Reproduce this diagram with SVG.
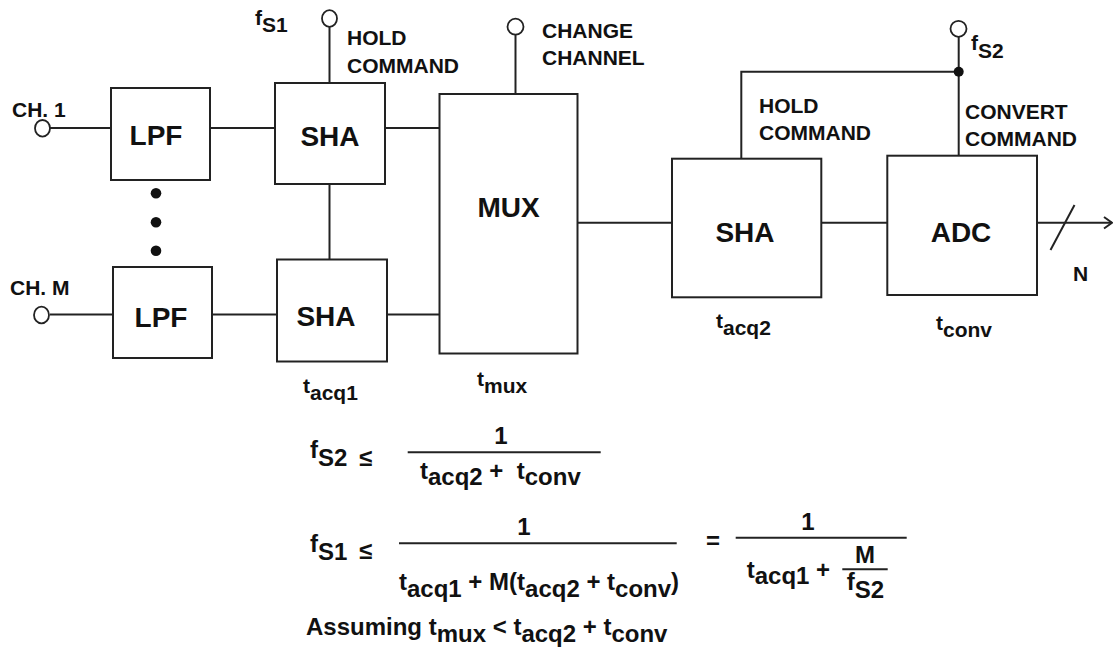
<svg xmlns="http://www.w3.org/2000/svg" width="1113" height="655" viewBox="0 0 1113 655">
<style>
.box{fill:#fff;stroke:#222;stroke-width:2}
.w{stroke:#222;stroke-width:2;fill:none}
.term{fill:#fff;stroke:#222;stroke-width:1.8}
.dot{fill:#111}
text{font-family:"Liberation Sans",Arial,sans-serif;font-weight:bold;fill:#111}
.lbl{font-size:21px}
.blk{font-size:28px;text-anchor:middle}
.eq{font-size:24px}
.mid{text-anchor:middle}
</style>
<rect width="1113" height="655" fill="#fff"/>
<g id="connectors">
<path class="w" d="M50,128 H111"/>
<path class="w" d="M210,128 H275"/>
<path class="w" d="M385,128 H441"/>
<path class="w" d="M50,314.5 H113"/>
<path class="w" d="M212,314.5 H277"/>
<path class="w" d="M387,314.5 H439.5"/>
<path class="w" d="M329.5,184 V259.5"/>
<path class="w" d="M329.5,26.5 V83"/>
<path class="w" d="M515.5,35 V94"/>
<path class="w" d="M577.5,222.7 H672"/>
<path class="w" d="M821.3,222.7 H887.3"/>
<path class="w" d="M1037,222.7 H1112"/>
<path class="w" d="M1104,217 L1112,222.7 L1104,228.5"/>
<path class="w" d="M1050.5,250 L1074.5,205"/>
<path class="w" d="M958.7,37 V155.7"/>
<path class="w" d="M958.7,71.7 H741.3 V158.7"/>
<circle class="dot" cx="958.7" cy="71.7" r="5"/>
</g>
<g id="ch1">
<ellipse class="term" cx="42.5" cy="128.3" rx="7.5" ry="8.3"/>
<text class="lbl" x="12" y="117">CH. 1</text>
</g>
<g id="chM">
<ellipse class="term" cx="41.5" cy="315" rx="7.5" ry="8.3"/>
<text class="lbl" x="10" y="295">CH. M</text>
</g>
<g id="dots">
<circle class="dot" cx="156" cy="193.3" r="5.3"/>
<circle class="dot" cx="156" cy="222.3" r="5.3"/>
<circle class="dot" cx="156" cy="250.7" r="5.3"/>
</g>
<g id="lpf1">
<rect class="box" x="111" y="88" width="99" height="92"/>
<text class="blk" x="156" y="145">LPF</text>
</g>
<g id="lpf2">
<rect class="box" x="113" y="267" width="99" height="91"/>
<text class="blk" x="161" y="327">LPF</text>
</g>
<g id="sha1">
<rect class="box" x="275" y="83" width="110" height="101"/>
<text class="blk" x="330" y="146">SHA</text>
</g>
<g id="sha2">
<rect class="box" x="277" y="259.5" width="110" height="102"/>
<text class="blk" x="326" y="326">SHA</text>
<text class="lbl" x="303" y="393">t<tspan dy="7">acq1</tspan></text>
</g>
<g id="hold1">
<ellipse class="term" cx="329.5" cy="18.5" rx="7.5" ry="8.3"/>
<text class="lbl" x="255" y="25">f<tspan dy="7">S1</tspan></text>
<text class="lbl" x="347" y="45">HOLD</text>
<text class="lbl" x="347" y="72.7">COMMAND</text>
</g>
<g id="mux">
<rect class="box" x="439.5" y="94" width="138" height="259.5"/>
<text class="blk" x="508.5" y="217">MUX</text>
<text class="lbl" x="477" y="386">t<tspan dy="7">mux</tspan></text>
</g>
<g id="changech">
<circle class="term" cx="515.5" cy="26.7" r="8"/>
<text class="lbl" x="542" y="38">CHANGE</text>
<text class="lbl" x="542" y="65">CHANNEL</text>
</g>
<g id="sha3">
<rect class="box" x="672" y="158.7" width="149.3" height="138.6"/>
<text class="blk" x="745" y="241.5">SHA</text>
<text class="lbl" x="716" y="328">t<tspan dy="7">acq2</tspan></text>
<text class="lbl" x="759" y="113">HOLD</text>
<text class="lbl" x="759" y="140">COMMAND</text>
</g>
<g id="adc">
<rect class="box" x="887.3" y="155.7" width="149.7" height="139.3"/>
<text class="blk" x="961" y="242">ADC</text>
<text class="lbl" x="936" y="330">t<tspan dy="7">conv</tspan></text>
<text class="lbl" x="965" y="119">CONVERT</text>
<text class="lbl" x="965" y="146">COMMAND</text>
<text class="lbl" x="1073" y="281">N</text>
</g>
<g id="fs2">
<circle class="term" cx="958.5" cy="28.8" r="8"/>
<text class="lbl" x="971" y="50">f<tspan dy="8">S2</tspan></text>
</g>
<g id="equations">
<text class="eq" x="310" y="458">f<tspan dy="8">S2</tspan></text>
<text class="eq" x="359" y="466">≤</text>
<text class="eq mid" x="501" y="444">1</text>
<path class="w" d="M407.7,452.3 H600.7"/>
<text class="eq" x="420" y="479">t<tspan dy="6">acq2</tspan><tspan dy="-6"> + &#160;t</tspan><tspan dy="6">conv</tspan></text>

<text class="eq" x="310" y="551.7">f<tspan dy="8">S1</tspan></text>
<text class="eq" x="359" y="559">≤</text>
<text class="eq mid" x="524" y="535">1</text>
<path class="w" d="M399,543.3 H676.7"/>
<text class="eq" x="399" y="590">t<tspan dy="7">acq1</tspan><tspan dy="-7"> + M(t</tspan><tspan dy="7">acq2</tspan><tspan dy="-7"> + t</tspan><tspan dy="7">conv</tspan><tspan dy="-7">)</tspan></text>
<text class="eq" x="706" y="549">=</text>
<text class="eq mid" x="808" y="530">1</text>
<path class="w" d="M735.7,537.7 H906.7"/>
<text class="eq" x="746.7" y="578">t<tspan dy="6">acq1</tspan><tspan dy="-6"> +</tspan></text>
<text class="eq mid" x="865" y="563.3">M</text>
<path class="w" d="M842.3,569.3 H887.7"/>
<text class="eq" x="846.7" y="590">f<tspan dy="8">S2</tspan></text>

<text class="eq" x="306" y="635">Assuming t<tspan dy="7">mux</tspan><tspan dy="-7"> &lt; t</tspan><tspan dy="7">acq2</tspan><tspan dy="-7"> + t</tspan><tspan dy="7">conv</tspan></text>
</g>
</svg>
